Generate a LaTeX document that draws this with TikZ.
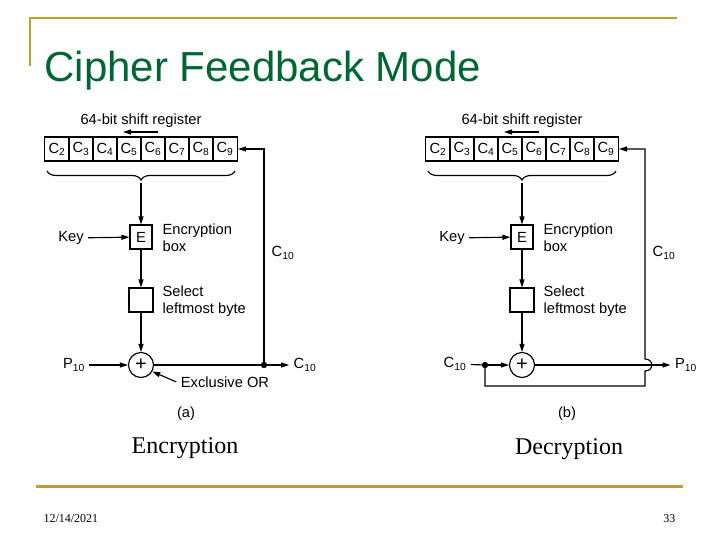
\documentclass[tikz,border=0pt]{standalone}
\usepackage{fontspec}
\setmainfont{Liberation Sans}
\newfontfamily\timesfont{Liberation Serif}
\usetikzlibrary{arrows.meta,decorations.pathreplacing}
\definecolor{titlegreen}{RGB}{0,102,51}
\definecolor{gold}{RGB}{190,158,48}
\tikzset{
  lbl/.style={font=\fontsize{14.7}{17}\selectfont, inner sep=4pt},
  cell/.style={draw, minimum width=24pt, minimum height=24pt, inner sep=0pt, lbl},
  ebox/.style={draw, minimum width=22pt, minimum height=24pt, inner sep=0pt, lbl},
  xorcirc/.style={draw, circle, minimum size=25pt, inner sep=0pt, font=\fontsize{20}{20}\selectfont},
  arr/.style={-{Triangle[length=8pt,width=5pt]}},
}
\begin{document}
\begin{tikzpicture}[x=1pt, y=-1pt, line width=1.15pt]
	\useasboundingbox (0,0) rectangle (720,540);
	% slide frame
	\draw[gold, line width=2.5pt] (30,66) -- (30,18) -- (677,18);
	\draw[gold, line width=3pt] (36,486) -- (683,486);
	\node[anchor=base west, inner sep=0pt, text=titlegreen, font=\fontsize{42}{42}\selectfont] (title) at (44,82) {Cipher Feedback Mode};
	\node[anchor=base west, inner sep=0pt, font=\timesfont\fontsize{12}{12}\selectfont] (date) at (43,522) {12/14/2021};
	\node[anchor=base east, inner sep=0pt, font=\timesfont\fontsize{12}{12}\selectfont] (page) at (676,522) {33};
	% common part of both modes
	\foreach \p/\dx in {a/0, b/381} {
		\foreach \i in {2,...,9}
			\node[cell] (\p c\i) at ({\dx+57+24*(\i-2)},149) {C\textsubscript{\i}};
		\node[lbl] (\p reglbl) at (\dx+141,121) {64-bit shift register};
		\coordinate (\p sfrom) at (\dx+158,132);
		\coordinate (\p sto) at (\dx+123,132);
		\draw[arr] (\p sfrom) -- (\p sto);
		\draw[decorate, decoration={brace, mirror, amplitude=9pt}] (\dx+47,171) -- (\dx+235,171);
		\coordinate (\p tip) at (\dx+141,183);
		\node[ebox] (\p E) at (\dx+141,237) {E};
		\node[lbl] (\p key) at (\dx+71,238) {Key};
		\node[lbl, anchor=west, align=left] (\p elbl) at (\dx+158,238) {Encryption\\box};
		\node[draw, minimum size=24pt] (\p sel) at (\dx+141,300) {};
		\node[lbl, anchor=west, align=left] (\p slbl) at (\dx+158,301) {Select\\leftmost byte};
		\node[xorcirc] (\p xor) at (\dx+141,365) {+};
		\node[lbl] (\p side) at (\dx+283,253) {C\textsubscript{10}};
		\draw[arr] (\p tip) -- (\p E);
		\draw[arr] (\p key) -- (\p E);
		\draw[arr] (\p E) -- (\p sel);
		\draw[arr] (\p sel) -- (\p xor);
	}
	% (a) encryption
	\node[lbl] (p10a) at (74,365) {P\textsubscript{10}};
	\coordinate (dota) at (264,365);
	\node[lbl] (c10a) at (305,365) {C\textsubscript{10}};
	\node[lbl] (xorlbl) at (225,382) {Exclusive OR};
	\draw[arr] (p10a) -- (axor);
	\draw (axor) -- (dota);
	\draw[arr] (dota) -- (c10a);
	\fill (dota) circle (3.2);
	\draw[arr] (dota) |- (ac9);
	\draw[arr] (xorlbl.west) -- (axor.-30);
	\node[lbl] (capa) at (186,414) {(a)};
	\node[anchor=base, font=\timesfont\fontsize{24}{24}\selectfont] (enc) at (185,453) {Encryption};
	% (b) decryption
	\node[lbl] (c10b) at (455,364) {C\textsubscript{10}};
	\coordinate (dotb) at (485,365);
	\node[lbl] (p10b) at (686,365) {P\textsubscript{10}};
	\coordinate (loopb) at (645,386);
	\draw (c10b) -- (dotb);
	\draw[arr] (dotb) -- (bxor);
	\draw[arr] (bxor) -- (p10b);
	\fill (dotb) circle (3.2);
	\draw[arr] (dotb) |- (loopb) -- (645,371) .. controls (654,371) and (654,359) .. (645,359) |- (bc9);
	\node[lbl] (capb) at (567,414) {(b)};
	\node[anchor=base, font=\timesfont\fontsize{24}{24}\selectfont] (dec) at (569,454) {Decryption};
\end{tikzpicture}
\end{document}
